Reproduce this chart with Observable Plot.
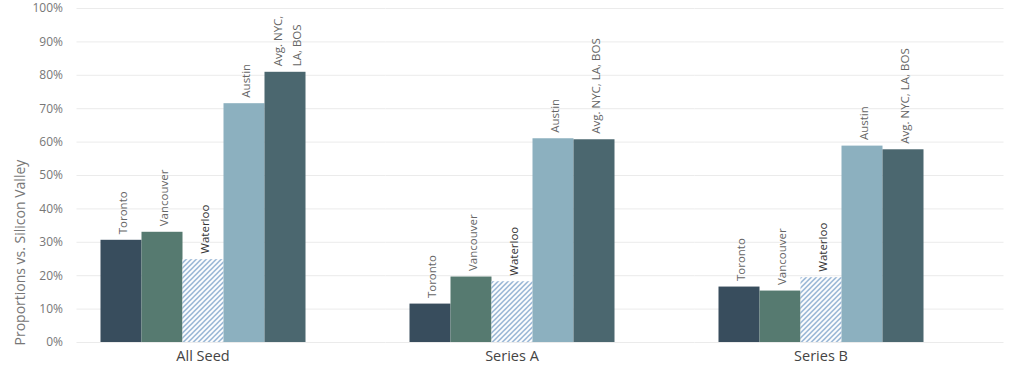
<!DOCTYPE html>
<html>
<head>
<meta charset="utf-8">
<script src="https://cdn.jsdelivr.net/npm/d3@7"></script>
<script src="https://cdn.jsdelivr.net/npm/@observablehq/plot@0.6"></script>
<style>
  html, body { margin: 0; padding: 0; background: #fff; }
  #chart svg { display: block; }
</style>
</head>
<body>
<div id="chart"></div>
<script>
const groups = ["All Seed", "Series A", "Series B"];
const cities = ["Toronto", "Vancouver", "Waterloo", "Austin", "Avg. NYC, LA, BOS"];
const toronto = [30.6, 11.5, 16.6];
const vancouver = [33.0, 19.6, 15.4];
const waterloo = [24.8, 18.2, 19.4];
const austin = [71.5, 61.0, 58.8];
const avgBig3 = [80.9, 60.7, 57.7];
const barLabels = [
  ["Toronto", "Vancouver", "Waterloo", "Austin", "Avg. NYC,\nLA, BOS"],
  ["Toronto", "Vancouver", "Waterloo", "Austin", "Avg. NYC, LA, BOS"],
  ["Toronto", "Vancouver", "Waterloo", "Austin", "Avg. NYC, LA, BOS"]
];
const yTicks = [0, 10, 20, 30, 40, 50, 60, 70, 80, 90, 100];
const yTitle = ["Proportions vs. Silicon Valley"];
const cityColors = ["#384d5d", "#567a70", "url(#hatch)", "#8cb0bf", "#4b676f"];

const series = [toronto, vancouver, waterloo, austin, avgBig3];
const data = [];
groups.forEach((g, gi) => {
  cities.forEach((c, ci) => {
    data.push({group: g, city: c, value: series[ci][gi], label: barLabels[gi][ci]});
  });
});

const shift = 28.5;

const chart = Plot.plot({
  width: 1024,
  height: 366,
  marginLeft: 47.5,
  marginRight: 49.5,
  marginTop: 8,
  marginBottom: 24,
  style: {fontFamily: "'Open Sans', sans-serif", fontSize: "12px", color: "#666", background: "#fff"},
  fx: {domain: groups, paddingInner: 0, paddingOuter: 0, label: null},
  x: {domain: cities, paddingInner: 0, paddingOuter: 1.25, axis: null},
  y: {domain: [0, 100], label: null},
  color: {domain: cities, range: cityColors},
  marks: [
    Plot.ruleY(yTicks, {y: d => d, stroke: "#ebebeb", strokeWidth: 1, dx: shift}),
    Plot.axisY({ticks: yTicks, tickSize: 0, tickPadding: 14, dx: shift, tickFormat: d => d + "%", fill: "#777", fontSize: 12, label: null}),
    Plot.text(yTitle, {facet: "super", frameAnchor: "bottom-left", rotate: -90, textAnchor: "start",
      dx: -27.5, dy: 3, fontSize: 14, fill: "#777", lineAnchor: "middle"}),
    Plot.axisFx({anchor: "bottom", tickSize: 0, tickPadding: 8, fontSize: 14.5, fill: "#444", label: null}),
    Plot.barY(data, {fx: "group", x: "city", y: "value", fill: "city", inset: 0}),
    Plot.text(data, {fx: "group", x: "city", y: "value", text: "label", rotate: -90, textAnchor: "start",
      lineAnchor: "middle", dy: -6, fontSize: 11.5, lineHeight: 1.6,
      fill: d => d.city === "Waterloo" ? "#333" : "#666",
      fontWeight: d => d.city === "Waterloo" ? "bold" : "normal"})
  ]
});

const ns = "http://www.w3.org/2000/svg";
const defs = document.createElementNS(ns, "defs");
const pattern = document.createElementNS(ns, "pattern");
pattern.setAttribute("id", "hatch");
pattern.setAttribute("patternUnits", "userSpaceOnUse");
pattern.setAttribute("width", "5");
pattern.setAttribute("height", "5");
const bg = document.createElementNS(ns, "rect");
bg.setAttribute("width", "5"); bg.setAttribute("height", "5"); bg.setAttribute("fill", "#fff");
pattern.appendChild(bg);
const p = document.createElementNS(ns, "path");
p.setAttribute("d", "M-1,1 l2,-2 M0,5 l5,-5 M4,6 l2,-2");
p.setAttribute("stroke", "#6e98c4");
p.setAttribute("stroke-width", "1.2");
pattern.appendChild(p);
defs.appendChild(pattern);
chart.insertBefore(defs, chart.firstChild);

document.getElementById("chart").appendChild(chart);
</script>
</body>
</html>
